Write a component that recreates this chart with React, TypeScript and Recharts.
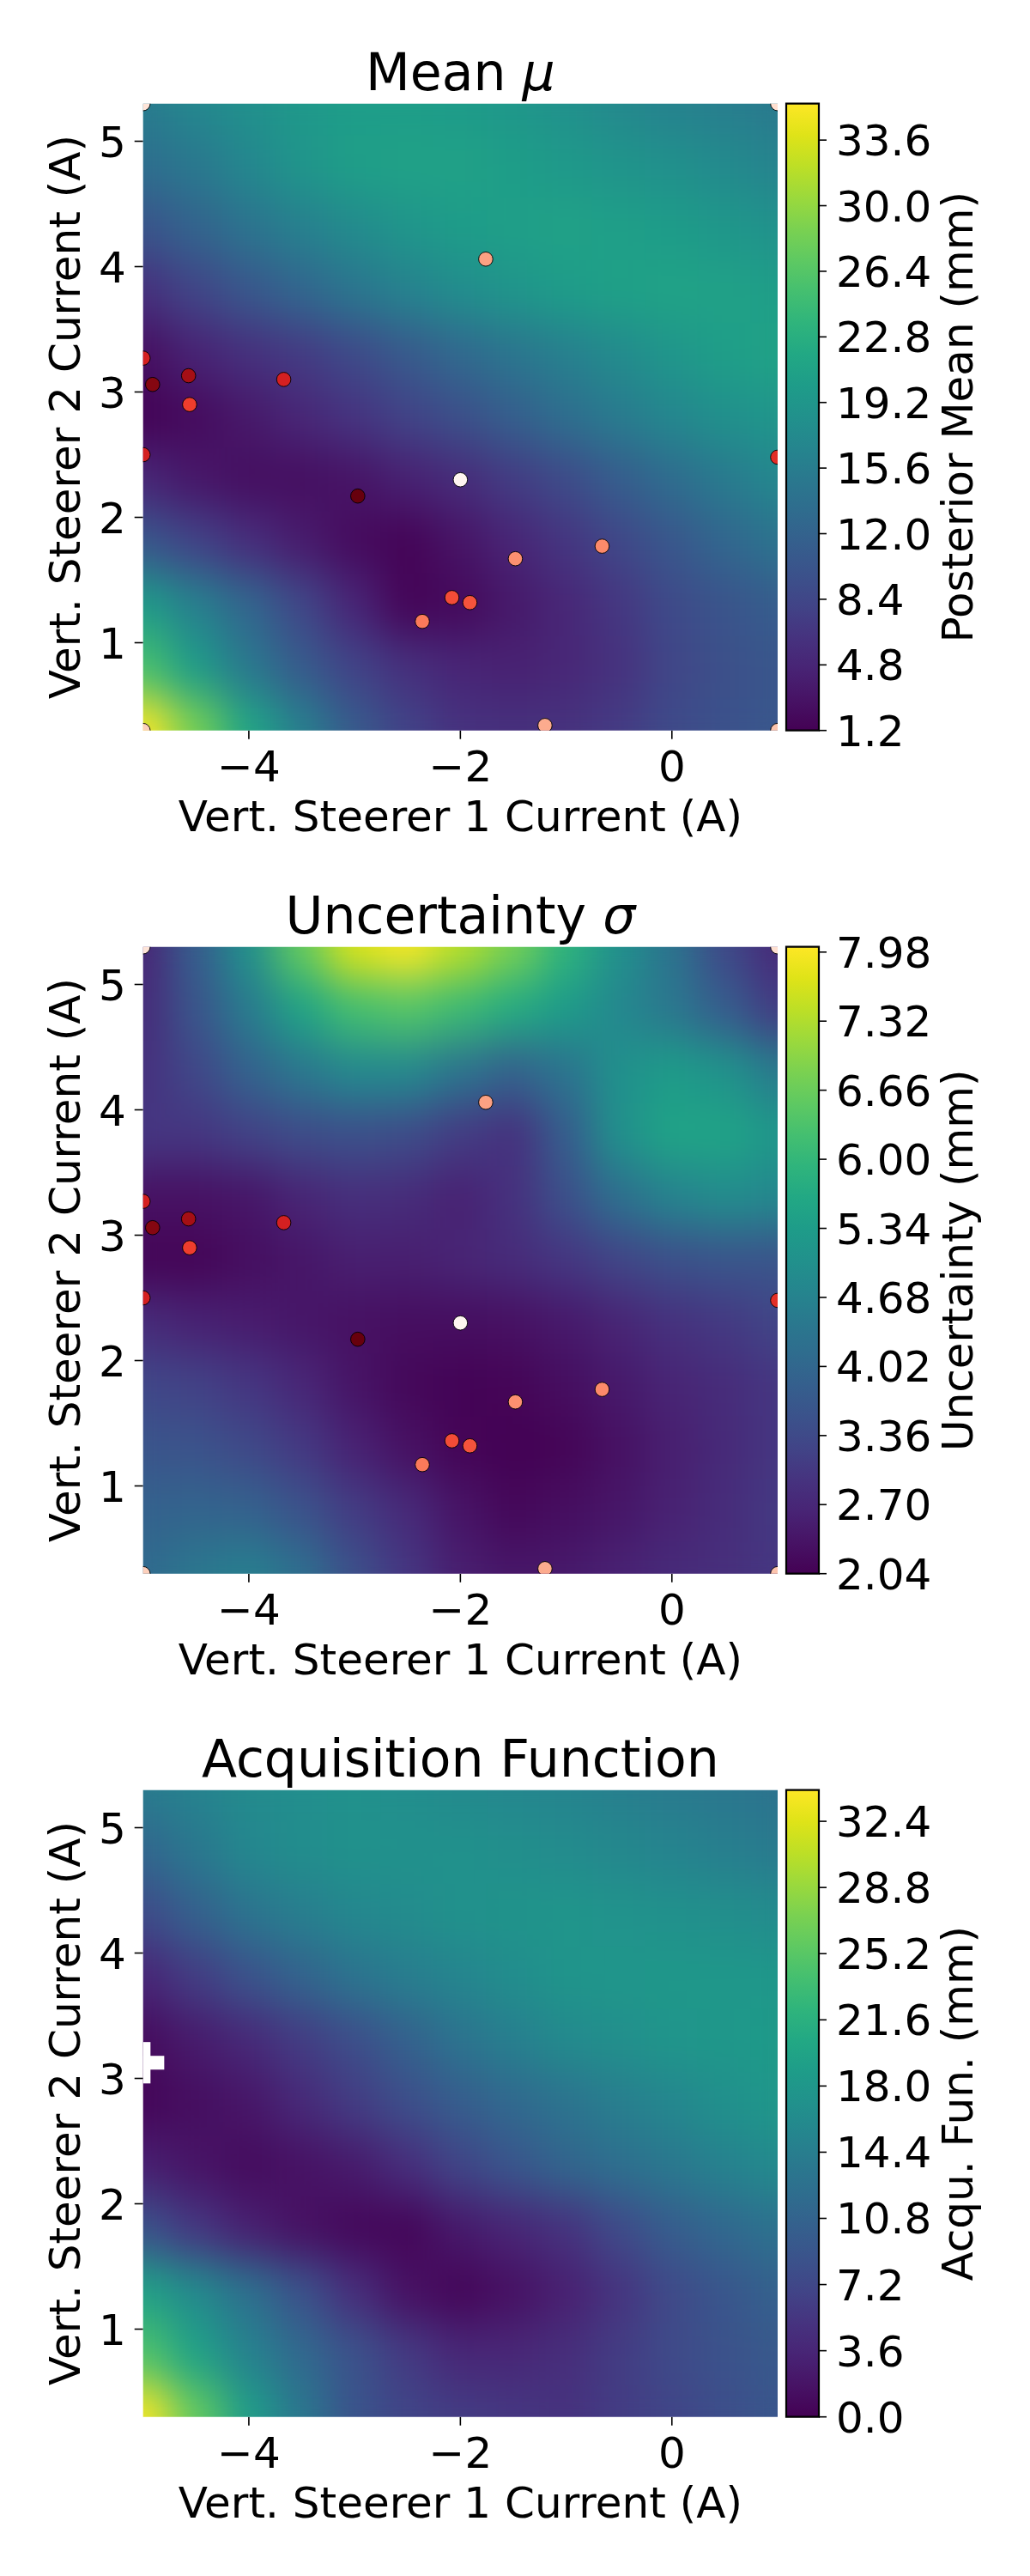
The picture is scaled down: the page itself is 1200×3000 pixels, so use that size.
import React from 'react';
import { ScatterChart, Scatter, XAxis, YAxis, ReferenceArea, ComposedChart } from 'recharts';

// ---------------- data ----------------
const gridX = [-5, -4.5, -4, -3.5, -3, -2.5, -2, -1.5, -1, -0.5, 0, 0.5, 1];
const gridY = [5.3, 4.8, 4.3, 3.8, 3.3, 2.8, 2.3, 1.8, 1.3, 0.8, 0.3];

const meanGrid = [
  [15.5, 17, 18.3, 19.5, 20.2, 20.3, 20, 19.3, 18.4, 17.3, 16.3, 15.7, 15.2],
  [13.5, 15, 17, 19, 20.4, 20.8, 20.8, 20.3, 19.6, 18.9, 18.2, 17.4, 16.5],
  [10, 12, 14.2, 16, 17.5, 19, 20.1, 20.6, 20.8, 20.5, 20.1, 19.4, 18.5],
  [6, 8.2, 10.4, 12.4, 14.6, 16.3, 17.8, 19.1, 20.1, 20.7, 21, 20.9, 20.4],
  [2.5, 4.5, 6, 7.2, 8.8, 10.8, 12.8, 14.6, 16, 17.6, 19.2, 20.4, 21],
  [1.4, 2.2, 3.5, 5, 6.5, 8, 9.5, 11.5, 13.5, 15.3, 17, 18.2, 19.2],
  [5, 3.3, 2.5, 2.5, 3, 4.3, 5.5, 7.3, 9, 11.2, 13.3, 15.2, 17],
  [10.5, 8, 5.8, 3.8, 2.2, 1.5, 3, 4.8, 6.6, 8.5, 10.5, 12.5, 14.3],
  [20, 16, 12.5, 8.5, 4.8, 1.6, 2, 3.5, 5, 6.8, 8.8, 10, 11.2],
  [25.5, 20, 15, 11, 8, 6, 4.8, 4.3, 5, 6.2, 8.3, 9.5, 10.3],
  [35.6, 28.5, 21.5, 16, 11, 8, 6.3, 6, 6.2, 7.2, 8.8, 9.7, 10.5],
];

const sigmaGrid = [
  [2.7, 3.8, 5.0, 6.6, 7.7, 8.0, 7.4, 6.8, 5.9, 5.0, 4.3, 3.35, 2.76],
  [2.8, 3.6, 4.5, 5.5, 6.2, 6.4, 6.1, 5.7, 5.3, 4.8, 4.4, 3.8, 3.1],
  [2.9, 3.3, 3.9, 4.4, 4.8, 4.8, 4.3, 3.9, 4.3, 5.0, 5.3, 5.1, 4.5],
  [3.0, 3.0, 3.2, 3.4, 3.5, 3.4, 3.1, 2.9, 3.8, 5.0, 5.5, 5.5, 5.2],
  [2.3, 2.3, 2.4, 2.65, 2.85, 2.8, 2.6, 2.9, 3.5, 4.2, 4.7, 4.9, 4.8],
  [2.1, 2.1, 2.25, 2.4, 2.55, 2.55, 2.65, 2.8, 3.0, 3.25, 3.5, 3.6, 3.6],
  [2.8, 2.6, 2.5, 2.4, 2.3, 2.25, 2.25, 2.3, 2.45, 2.65, 2.9, 3.05, 3.25],
  [3.3, 3.2, 3.0, 2.7, 2.35, 2.15, 2.08, 2.1, 2.25, 2.45, 2.65, 2.8, 3.0],
  [3.6, 3.55, 3.35, 3.05, 2.6, 2.3, 2.1, 2.04, 2.1, 2.3, 2.55, 2.75, 3.0],
  [3.9, 3.95, 3.9, 3.55, 3.1, 2.75, 2.35, 2.15, 2.25, 2.4, 2.6, 2.8, 3.05],
  [4.1, 4.4, 4.6, 4.2, 3.5, 3.0, 2.55, 2.4, 2.45, 2.6, 2.75, 2.85, 3.0],
];

const acqGrid = [
  [14, 15, 16, 16.6, 17, 16.6, 16, 15.6, 15.2, 14.6, 14, 13.5, 13],
  [11.2, 13.5, 15.6, 16.5, 17, 17.1, 17, 16.7, 16.3, 15.8, 15.2, 14.6, 14],
  [7.5, 10.3, 13, 14.4, 15.6, 16.4, 17, 17.4, 17.6, 17.3, 17, 16.7, 16.3],
  [3.5, 6, 8.5, 10.8, 13, 14.3, 15.3, 16.5, 17.5, 17.8, 18, 18, 18],
  [1, 2.5, 4, 6, 8, 10.5, 13, 14.5, 16, 16.8, 17.6, 18, 18.5],
  [0.5, 1.2, 2, 4, 6, 8, 10, 11.5, 13, 14.4, 15.7, 16.9, 18],
  [3, 1.8, 1, 1.6, 2.5, 4.6, 7, 9, 11, 12.4, 13.7, 14.9, 16],
  [8.5, 5.5, 3, 1.5, 0.7, 0.5, 2.3, 3.6, 5, 7.5, 10, 11.4, 12.8],
  [19.5, 16, 12.5, 8.5, 4.5, 1.5, 0.5, 1.5, 3, 5.2, 7.5, 9, 10.5],
  [24.5, 19.5, 15, 11.5, 8.5, 5.8, 3.7, 3.8, 4.5, 6, 7.5, 8.5, 9.5],
  [34, 26, 19, 13.5, 8.7, 7, 6, 5.5, 5, 6, 7, 8, 9],
];

// observed samples (x, y, shade on the Reds colormap)
const obsX = [-5, 1, -5, 1, -1.76, -5, -4.91, -4.57, -3.67, -4.56, -5, 1, -2.0, -2.97, -0.66, -1.48, -2.08, -1.91, -2.36, -1.2];
const obsY = [5.3, 5.3, 0.3, 0.3, 4.06, 3.27, 3.06, 3.13, 3.10, 2.90, 2.50, 2.48, 2.30, 2.17, 1.77, 1.67, 1.36, 1.32, 1.17, 0.34];
const obsShade = [0.1, 0.13, 0.18, 0.22, 0.33, 0.72, 0.94, 0.875, 0.72, 0.62, 0.72, 0.67, 0.0, 1.0, 0.4, 0.38, 0.58, 0.56, 0.45, 0.3];

// undefined (NaN) cells of the acquisition map
const nanX0 = [-5, -5];
const nanX1 = [-4.93, -4.8];
const nanY0 = [2.96, 3.07];
const nanY1 = [3.29, 3.18];

const xTicks = [-4, -2, 0];
const yTicks = [1, 2, 3, 4, 5];
const xDomain = [-5, 1];
const yDomain = [0.3, 5.3];

const meanTicks = [1.2, 4.8, 8.4, 12.0, 15.6, 19.2, 22.8, 26.4, 30.0, 33.6];
const sigmaTicks = [2.04, 2.7, 3.36, 4.02, 4.68, 5.34, 6.0, 6.66, 7.32, 7.98];
const acqTicks = [0.0, 3.6, 7.2, 10.8, 14.4, 18.0, 21.6, 25.2, 28.8, 32.4];
const meanRange = [1.2, 35.6];
const sigmaRange = [2.04, 8.03];
const acqRange = [0, 34.1];

// ---------------- colormaps ----------------
const VIR = ['#440154', '#471365', '#482475', '#46337f', '#414487', '#3b528b', '#355f8d', '#2f6c8e', '#2a788e', '#25858e', '#21918c', '#1e9c89', '#22a884', '#2fb47c', '#44bf70', '#5ec962', '#7ad151', '#9bd93c', '#bddf26', '#dfe318', '#fde725'];
const REDS = ['#fff5f0', '#fee0d2', '#fcbba1', '#fc9272', '#fb6a4a', '#ef3b2c', '#cb181d', '#a50f15', '#67000d'];

function hexToRgb(h: string) {
  return [parseInt(h.slice(1, 3), 16), parseInt(h.slice(3, 5), 16), parseInt(h.slice(5, 7), 16)];
}
function cmap(stops: string[], t: number) {
  const tt = Math.max(0, Math.min(1, t)) * (stops.length - 1);
  const i = Math.min(stops.length - 2, Math.floor(tt));
  const f = tt - i;
  const a = hexToRgb(stops[i]);
  const b = hexToRgb(stops[i + 1]);
  const c = a.map((v, k) => Math.round(v + (b[k] - v) * f));
  return `rgb(${c[0]},${c[1]},${c[2]})`;
}

// ---------------- layout ----------------
const FONT = 'DejaVu Sans';
const W = 1200;
const PANEL_H = 982;
const PL = 166.7, PR = 906, PT = 120.7, PB = 850.7;
const CBL = 916, CBR = 954;
const YW = 60, XH = 60, CBW = 150;
const PXU = (PR - PL) / (xDomain[1] - xDomain[0]);
const PYU = (PB - PT) / (yDomain[1] - yDomain[0]);
const CELL_W = (PR - PL) / (gridX.length - 1) + 1;
const CELL_H = (PB - PT) / (gridY.length - 1) + 1;

const fmtX = (v: number) => (v < 0 ? '\u2212' + Math.abs(v) : String(v));

const XTick = (p: any) => (
  <text x={p.x} y={p.y} dy="0.71em" textAnchor="middle" fontSize={50} fontFamily={FONT} fill="#000">
    {fmtX(p.payload.value)}
  </text>
);
const YTick = (p: any) => (
  <text x={p.x} y={p.y} dy="0.36em" textAnchor="end" fontSize={50} fontFamily={FONT} fill="#000">
    {String(p.payload.value)}
  </text>
);

function heatData(grid: number[][]) {
  return gridY.flatMap((y, i) => gridX.map((x, j) => ({ x, y, v: grid[i][j] })));
}
const obsData = obsX.map((x, i) => ({ x, y: obsY[i], c: obsShade[i] }));
const nanData = nanX0.map((x0, i) => ({
  x: (x0 + nanX1[i]) / 2,
  y: (nanY0[i] + nanY1[i]) / 2,
  w: nanX1[i] - x0,
  h: nanY1[i] - nanY0[i],
}));

const NanShape = (p: any) => (
  <rect
    x={p.cx - (p.payload.w * PXU) / 2}
    y={p.cy - (p.payload.h * PYU) / 2}
    width={p.payload.w * PXU}
    height={p.payload.h * PYU}
    fill="#ffffff"
  />
);

type PanelProps = {
  top: number;
  titleMain: string;
  titleSym?: string;
  grid: number[][];
  range: number[];
  cbTicks: number[];
  digits: number;
  cbLabel: string;
  showPoints: boolean;
  showNaN: boolean;
};

function Panel(props: PanelProps) {
  const { top, titleMain, titleSym, grid, range, cbTicks, digits, cbLabel, showPoints, showNaN } = props;
  const [lo, hi] = range;
  const HeatShape = (p: any) => (
    <rect
      x={p.cx - CELL_W / 2}
      y={p.cy - CELL_H / 2}
      width={CELL_W}
      height={CELL_H}
      fill={cmap(VIR, (p.payload.v - lo) / (hi - lo))}
    />
  );
  const PointShape = (p: any) => (
    <circle cx={p.cx} cy={p.cy} r={8.3} fill={cmap(REDS, p.payload.c)} stroke="#000" strokeWidth={0.9} />
  );
  const CbTick = (p: any) => (
    <text x={p.x} y={p.y} dy="0.36em" textAnchor="start" fontSize={50} fontFamily={FONT} fill="#000">
      {Number(p.payload.value).toFixed(digits)}
    </text>
  );
  const cx = (PL + PR) / 2;
  const cy = (PT + PB) / 2;
  return (
    <div style={{ position: 'absolute', left: 0, top, width: W, height: PANEL_H }}>
      <div style={{ position: 'absolute', left: 0, top: 0 }}>
        <ScatterChart
          width={W}
          height={PANEL_H}
          margin={{ top: PT, right: W - PR, bottom: PANEL_H - PB - XH, left: PL - YW }}
        >
          <XAxis
            type="number"
            dataKey="x"
            domain={xDomain}
            ticks={xTicks}
            interval={0}
            allowDataOverflow
            axisLine={false}
            tickLine={{ stroke: '#000', strokeWidth: 1.6 }}
            tickSize={10}
            tickMargin={13.5}
            height={XH}
            tick={XTick}
          />
          <YAxis
            type="number"
            dataKey="y"
            domain={yDomain}
            ticks={yTicks}
            interval={0}
            allowDataOverflow
            axisLine={false}
            tickLine={{ stroke: '#000', strokeWidth: 1.6 }}
            tickSize={10}
            tickMargin={10}
            width={YW}
            tick={YTick}
          />
          <Scatter
            data={heatData(grid)}
            shape={HeatShape}
            isAnimationActive={false}
            className="heatLayer"
          />
          {showNaN && (
            <Scatter data={nanData} shape={NanShape} isAnimationActive={false} className="nanLayer" />
          )}
          {showPoints && (
            <Scatter data={obsData} shape={PointShape} isAnimationActive={false} className="obsLayer" />
          )}
        </ScatterChart>
      </div>
      <div style={{ position: 'absolute', left: 0, top: 0 }}>
        <ComposedChart
          width={W}
          height={PANEL_H}
          data={cbTicks.map((v) => ({ x: 0.5, v }))}
          margin={{ top: PT, right: W - CBR - CBW, bottom: PANEL_H - PB, left: CBL }}
        >
          <XAxis type="number" dataKey="x" domain={[0, 1]} hide allowDataOverflow />
          <YAxis
            type="number"
            dataKey="v"
            orientation="right"
            domain={range}
            ticks={cbTicks}
            interval={0}
            allowDataOverflow
            axisLine={false}
            tickLine={{ stroke: '#000', strokeWidth: 1.6 }}
            tickSize={9}
            tickMargin={11}
            width={CBW}
            tick={CbTick}
          />
          <ReferenceArea
            x1={0}
            x2={1}
            y1={lo}
            y2={hi}
            fill="url(#viridisV)"
            fillOpacity={1}
            stroke="#000"
            strokeWidth={2.2}
            ifOverflow="visible"
          />
        </ComposedChart>
      </div>
      <svg
        width={W}
        height={PANEL_H}
        style={{ position: 'absolute', left: 0, top: 0, pointerEvents: 'none' }}
        fontFamily={FONT}
      >
        <text x={cx} y={105} textAnchor="middle" fontSize={60} fill="#000">
          {titleMain}
          {titleSym ? <tspan fontStyle="italic">{titleSym}</tspan> : null}
        </text>
        <text x={cx} y={967.7} textAnchor="middle" fontSize={50} fill="#000">
          Vert. Steerer 1 Current (A)
        </text>
        <text
          x={93}
          y={cy}
          textAnchor="middle"
          fontSize={50}
          fill="#000"
          transform={`rotate(-90 93 ${cy})`}
        >
          Vert. Steerer 2 Current (A)
        </text>
        <text
          x={1133}
          y={cy}
          textAnchor="middle"
          fontSize={50}
          fill="#000"
          transform={`rotate(-90 1133 ${cy})`}
        >
          {cbLabel}
        </text>
      </svg>
    </div>
  );
}

export default function App() {
  return (
    <div style={{ position: 'absolute', left: 0, top: 0, width: W, height: 3000, background: '#fff' }}>
      <style>{`.heatLayer { filter: url(#heatBlur); }`}</style>
      <svg width={0} height={0} style={{ position: 'absolute', left: 0, top: 0 }}>
        <defs>
          <filter
            id="heatBlur"
            filterUnits="userSpaceOnUse"
            x={PL}
            y={PT}
            width={PR - PL}
            height={PB - PT}
            colorInterpolationFilters="sRGB"
          >
            <feGaussianBlur stdDeviation="22 26" />
            <feComponentTransfer>
              <feFuncA type="linear" slope={0} intercept={1} />
            </feComponentTransfer>
          </filter>
          <linearGradient id="viridisV" x1="0" y1="1" x2="0" y2="0">
            {VIR.map((c, i) => (
              <stop key={i} offset={i / (VIR.length - 1)} stopColor={c} />
            ))}
          </linearGradient>
        </defs>
      </svg>
      <Panel
        top={0}
        titleMain="Mean "
        titleSym={'\u03bc'}
        grid={meanGrid}
        range={meanRange}
        cbTicks={meanTicks}
        digits={1}
        cbLabel="Posterior Mean (mm)"
        showPoints
        showNaN={false}
      />
      <Panel
        top={982}
        titleMain="Uncertainty "
        titleSym={'\u03c3'}
        grid={sigmaGrid}
        range={sigmaRange}
        cbTicks={sigmaTicks}
        digits={2}
        cbLabel="Uncertainty (mm)"
        showPoints
        showNaN={false}
      />
      <Panel
        top={1964}
        titleMain="Acquisition Function"
        grid={acqGrid}
        range={acqRange}
        cbTicks={acqTicks}
        digits={1}
        cbLabel="Acqu. Fun. (mm)"
        showPoints={false}
        showNaN
      />
    </div>
  );
}
